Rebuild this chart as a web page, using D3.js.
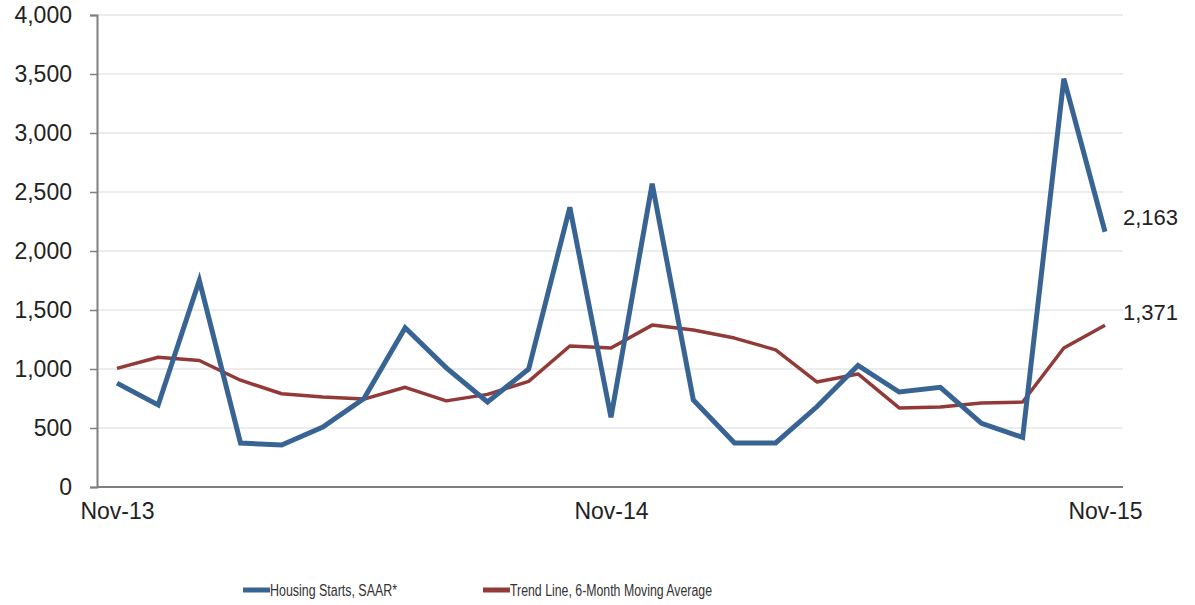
<!DOCTYPE html>
<html>
<head>
<meta charset="utf-8">
<script src="https://cdn.jsdelivr.net/npm/d3@7"></script>
<style>
    body { margin: 0; background: #fff; }
    svg { display: block; font-family: "Liberation Sans", Arial, sans-serif; }
</style>
</head>
<body>
<div id="chart"></div>
<script>
// monthly categories, Nov-13 .. Nov-15
const months = ["Nov-13", "Dec-13", "Jan-14", "Feb-14", "Mar-14", "Apr-14", "May-14", "Jun-14",
    "Jul-14", "Aug-14", "Sep-14", "Oct-14", "Nov-14", "Dec-14", "Jan-15", "Feb-15", "Mar-15",
    "Apr-15", "May-15", "Jun-15", "Jul-15", "Aug-15", "Sep-15", "Oct-15", "Nov-15"];
const xTickLabels = ["Nov-13", "Nov-14", "Nov-15"];

const housingStarts = [880, 695, 1750, 373, 356, 508, 750, 1350, 1010, 720, 1000, 2370, 590,
    2570, 737, 373, 373, 680, 1030, 805, 845, 540, 420, 3460, 2163];
const trendLine = [1005, 1100, 1072, 905, 790, 762, 745, 845, 730, 785, 895, 1195, 1178,
    1372, 1330, 1262, 1162, 890, 958, 670, 678, 712, 720, 1178, 1371];

const yTicks = [0, 500, 1000, 1500, 2000, 2500, 3000, 3500, 4000];

const seriesNames = ["Housing Starts, SAAR*", "Trend Line, 6-Month Moving Average"];
const seriesColors = ["#386494", "#923a38"];

const width = 1195, height = 605;
const svg = d3.select("#chart").append("svg")
    .attr("width", width)
    .attr("height", height)
    .attr("viewBox", "0 0 " + width + " " + height);

const plotLeft = 97, plotRight = 1123, plotTop = 15, plotBottom = 487;

const x = d3.scaleLinear()
    .domain([0, months.length - 1])
    .range([117, 1105]);
const y = d3.scaleLinear()
    .domain([0, 4000])
    .range([plotBottom, plotTop]);

// gridlines
svg.append("g")
    .selectAll("line")
    .data(yTicks.filter(d => d > 0))
    .join("line")
    .attr("x1", plotLeft)
    .attr("x2", plotRight)
    .attr("y1", d => y(d))
    .attr("y2", d => y(d))
    .attr("stroke", "#e6e6e6")
    .attr("stroke-width", 1.5);

// y axis
const yAxis = svg.append("g")
    .attr("transform", "translate(" + plotLeft + ",0)")
    .call(d3.axisLeft(y).tickValues(yTicks).tickSize(7).tickPadding(18).tickFormat(d3.format(",")));
yAxis.select(".domain").attr("stroke", "#7f7f7f").attr("stroke-width", 2);
yAxis.selectAll(".tick line").attr("stroke", "#7f7f7f").attr("stroke-width", 1.5);
yAxis.selectAll("text").attr("font-size", 23).attr("fill", "#222")
    .attr("font-family", "'Liberation Sans', Arial, sans-serif");

// x axis
const xAxis = svg.append("g")
    .attr("transform", "translate(0," + plotBottom + ")")
    .call(d3.axisBottom(x)
        .tickValues(xTickLabels.map(l => months.indexOf(l)))
        .tickSize(0).tickPadding(16)
        .tickFormat(i => months[i]));
xAxis.select(".domain").attr("d", "M" + plotLeft + ",0H" + plotRight)
    .attr("stroke", "#7f7f7f").attr("stroke-width", 2);
xAxis.selectAll("text").attr("font-size", 23).attr("fill", "#222")
    .attr("font-family", "'Liberation Sans', Arial, sans-serif");

// lines
const line = d3.line()
    .x((d, i) => x(i))
    .y(d => y(d));

svg.append("path")
    .datum(trendLine)
    .attr("d", line)
    .attr("fill", "none")
    .attr("stroke", seriesColors[1])
    .attr("stroke-width", 3.5)
    .attr("stroke-linejoin", "round");

svg.append("path")
    .datum(housingStarts)
    .attr("d", line)
    .attr("fill", "none")
    .attr("stroke", seriesColors[0])
    .attr("stroke-width", 5)
    .attr("stroke-linejoin", "miter");

// end labels
const last = months.length - 1;
svg.append("text")
    .attr("x", plotRight)
    .attr("y", y(housingStarts[last]) - 7)
    .attr("font-size", 22)
    .attr("fill", "#222")
    .text(d3.format(",")(housingStarts[last]));
svg.append("text")
    .attr("x", plotRight)
    .attr("y", y(trendLine[last]) - 5)
    .attr("font-size", 22)
    .attr("fill", "#222")
    .text(d3.format(",")(trendLine[last]));

// legend
const legendItems = [
    {name: seriesNames[0], color: seriesColors[0], x: 243, textWidth: 127},
    {name: seriesNames[1], color: seriesColors[1], x: 483, textWidth: 202}
];
const legend = svg.append("g").attr("transform", "translate(0,590)");
legendItems.forEach(item => {
    legend.append("line")
        .attr("x1", item.x).attr("x2", item.x + 27)
        .attr("y1", 0).attr("y2", 0)
        .attr("stroke", item.color)
        .attr("stroke-width", 5);
    legend.append("text")
        .attr("x", item.x + 27)
        .attr("y", 6)
        .attr("font-size", 16)
        .attr("fill", "#333")
        .attr("textLength", item.textWidth)
        .attr("lengthAdjust", "spacingAndGlyphs")
        .text(item.name);
});
</script>
</body>
</html>
